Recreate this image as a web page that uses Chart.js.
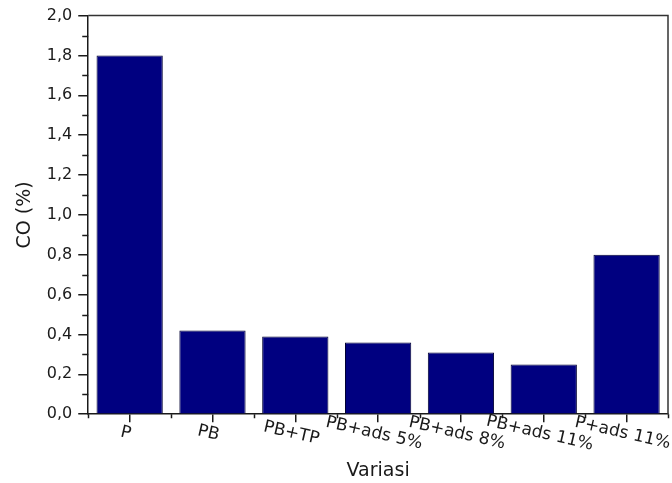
<!DOCTYPE html>
<html><head><meta charset="utf-8">
<script src="https://cdn.jsdelivr.net/npm/chart.js@4.4.0/dist/chart.umd.min.js"></script>
<style>html,body{margin:0;padding:0;background:#fff}#wrap{width:672px;height:483px;position:relative}</style>
</head><body><div id="wrap"><canvas id="c"></canvas></div>
<script>
const categories = ['P', 'PB', 'PB+TP', 'PB+ads 5%', 'PB+ads 8%', 'PB+ads 11%', 'P+ads 11%'];
const coValues = [1.80, 0.42, 0.39, 0.36, 0.31, 0.25, 0.80];
const yTickValues = [0, 0.2, 0.4, 0.6, 0.8, 1.0, 1.2, 1.4, 1.6, 1.8, 2.0];
const yMinorValues = [0.1, 0.3, 0.5, 0.7, 0.9, 1.1, 1.3, 1.5, 1.7, 1.9];
const xTitle = 'Variasi';
const yTitle = 'CO (%)';

const FONT = "'DejaVu Sans', Arial, sans-serif";
const INK = '#1a1a1a';

const decorPlugin = {
  id: 'decor',
  afterDraw(chart) {
    const ctx = chart.ctx, a = chart.chartArea;
    const xs = chart.scales.x, ys = chart.scales.y;
    ctx.save();
    // top and right frame
    ctx.strokeStyle = '#333';
    ctx.lineWidth = 1.5;
    ctx.beginPath();
    ctx.moveTo(a.left, a.top); ctx.lineTo(a.right, a.top); ctx.lineTo(a.right, a.bottom);
    ctx.stroke();
    // minor y ticks
    ctx.strokeStyle = INK;
    ctx.lineWidth = 1.5;
    ctx.beginPath();
    yMinorValues.forEach(v => {
      const y = Math.round(ys.getPixelForValue(v)) + 0.5;
      ctx.moveTo(a.left - 6, y); ctx.lineTo(a.left, y);
    });
    // minor x ticks at category boundaries
    for (let i = 0; i <= categories.length; i++) {
      const x = Math.round(xs.getPixelForValue(i - 0.5)) + 0.5;
      ctx.moveTo(x, a.bottom); ctx.lineTo(x, a.bottom + 4);
    }
    ctx.stroke();
    // rotated x labels (clockwise)
    ctx.fillStyle = INK;
    ctx.font = "17px " + FONT;
    ctx.textAlign = 'center';
    ctx.textBaseline = 'middle';
    categories.forEach((c, i) => {
      const x = xs.getPixelForValue(i) - 4;
      const y = a.bottom + 19;
      ctx.save();
      ctx.translate(x, y);
      ctx.rotate(13 * Math.PI / 180);
      ctx.fillText(c, 0, 0);
      ctx.restore();
    });
    ctx.restore();
  }
};

new Chart(document.getElementById('c'), {
  type: 'bar',
  data: {
    labels: categories,
    datasets: [{
      data: coValues,
      backgroundColor: '#000080',
      borderColor: '#000033',
      borderWidth: 1,
      barPercentage: 0.8,
      categoryPercentage: 1.0
    }]
  },
  options: {
    responsive: true,
    maintainAspectRatio: false,
    animation: false,
    layout: { padding: { left: 8, right: 4, top: 8, bottom: 1 } },
    plugins: { legend: { display: false }, tooltip: { enabled: false } },
    scales: {
      x: {
        offset: true,
        grid: { display: true, drawOnChartArea: false, drawTicks: true, tickLength: 8, offset: false, color: INK, lineWidth: 1.5 },
        border: { display: true, color: INK, width: 1.5 },
        ticks: { display: false },
        title: { display: true, text: xTitle, color: INK, font: { family: FONT, size: 19 }, padding: { top: 37, bottom: 0 } }
      },
      y: {
        min: 0, max: 2,
        afterBuildTicks(scale) { scale.ticks = yTickValues.map(v => ({ value: v })); },
        grid: { display: true, drawOnChartArea: false, drawTicks: true, tickLength: 10, color: INK, lineWidth: 1.5 },
        border: { display: true, color: INK, width: 1.5 },
        ticks: {
          color: INK, padding: 6,
          font: { family: FONT, size: 16 },
          callback: v => Number(v).toFixed(1).replace('.', ',')
        },
        title: { display: true, text: yTitle, color: INK, font: { family: FONT, size: 19 }, padding: { top: 6, bottom: 4 } }
      }
    }
  },
  plugins: [decorPlugin]
});
</script>
</body></html>
